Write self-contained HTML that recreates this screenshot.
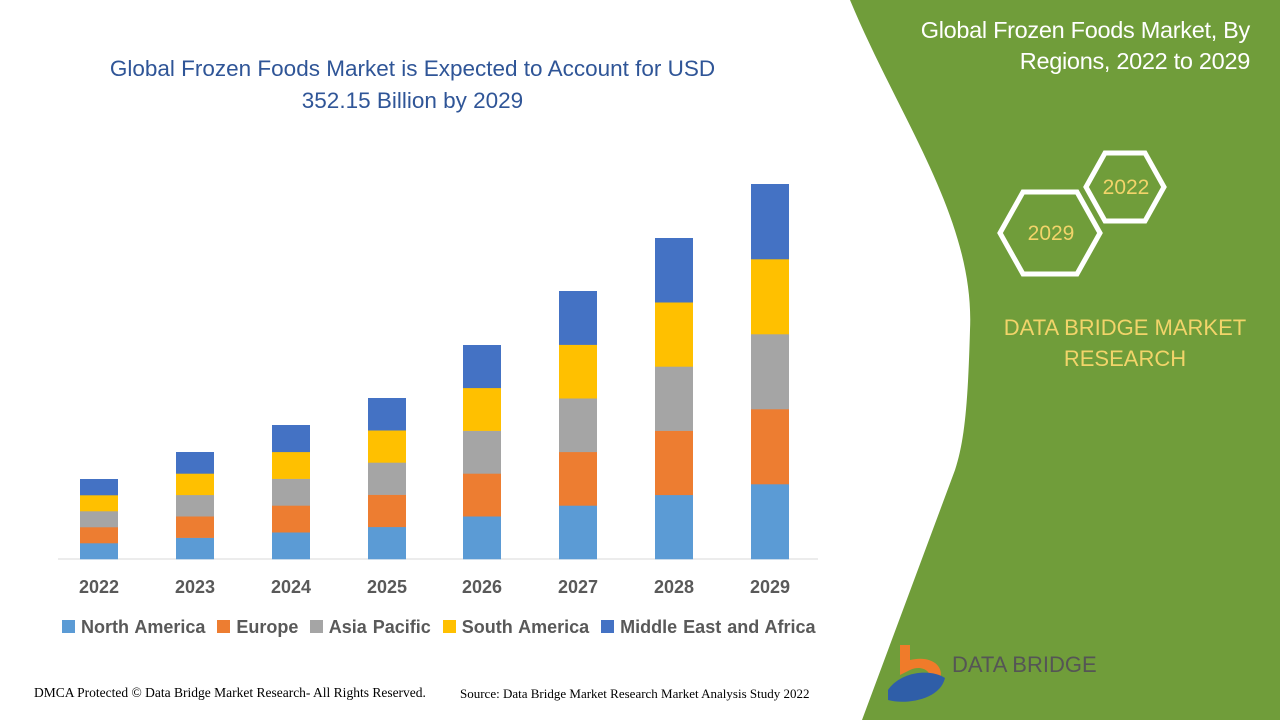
<!DOCTYPE html>
<html><head><meta charset="utf-8"><style>
body{margin:0;width:1280px;height:720px;overflow:hidden;background:#fff;font-family:"Liberation Sans",sans-serif;position:relative}
.t{position:absolute;white-space:nowrap}
</style></head><body>
<svg width="1280" height="720" style="position:absolute;left:0;top:0">
<path d="M850,0 C900,120 975,220 970,330 C968,400 965,440 955,470 L862,720 L1280,720 L1280,0 Z" fill="#709d3a"/>
<polygon points="1086,187 1105,153 1145,153 1164,187 1145,221 1105,221" fill="none" stroke="#fff" stroke-width="5"/>
<polygon points="1000,233 1023,192 1077,192 1100,233 1077,274 1023,274" fill="none" stroke="#fff" stroke-width="5"/>
<text x="1126" y="194" font-size="21" fill="#f2d46a" text-anchor="middle" font-family="Liberation Sans">2022</text>
<text x="1051" y="240" font-size="21" fill="#f2d46a" text-anchor="middle" font-family="Liberation Sans">2029</text>
<line x1="58" y1="559" x2="818" y2="559" stroke="#d9d9d9" stroke-width="1"/>
<g id="bars"></g>
<path d="M900,645 L910,645 L910,660 C930,655 945,665 940,680 L930,680 C932,670 920,665 910,670 L900,675 Z" fill="#f07b2a"/>
<path d="M888,690 C900,672 930,668 945,678 C940,700 905,705 888,700 Z" fill="#2f5ea8"/>
<text x="952" y="672" font-size="22" fill="#555" font-family="Liberation Sans">DATA BRIDGE</text>
</svg>
<div class="t" style="left:40px;top:53px;width:745px;text-align:center;font-size:22.5px;line-height:32px;color:#2f5597">Global Frozen Foods Market is Expected to Account for USD<br>352.15 Billion by 2029</div>
<div class="t" style="right:30px;top:15px;text-align:right;font-size:23.5px;line-height:31px;color:#fff;letter-spacing:-0.3px">Global Frozen Foods Market, By<br>Regions, 2022 to 2029</div>
<div class="t" style="left:980px;top:312px;width:290px;text-align:center;font-size:22px;line-height:31px;color:#f2d46a">DATA BRIDGE MARKET<br>RESEARCH</div>
<div class="t" style="left:34px;top:685px;font-size:13.5px;font-family:'Liberation Serif',serif">DMCA Protected © Data Bridge Market Research- All Rights Reserved.</div>
<div class="t" style="left:460px;top:686px;font-size:13px;font-family:'Liberation Serif',serif">Source: Data Bridge Market Research Market Analysis Study 2022</div>
<div class="t" style="left:62px;top:617px;font-size:18px;font-weight:bold;color:#595959;word-spacing:1px">
<span style="display:inline-block;width:13px;height:13px;background:#5b9bd5"></span> North America &nbsp;<span style="display:inline-block;width:13px;height:13px;background:#ed7d31"></span> Europe &nbsp;<span style="display:inline-block;width:13px;height:13px;background:#a5a5a5"></span> Asia Pacific &nbsp;<span style="display:inline-block;width:13px;height:13px;background:#ffc000"></span> South America &nbsp;<span style="display:inline-block;width:13px;height:13px;background:#4472c4"></span> Middle East and Africa</div>
<script>
var xs=[80,176,272,368,463,559,655,751],tops=[479,452,425,398,345,291,238,184],yrs=[2022,2023,2024,2025,2026,2027,2028,2029];
var cols=["#5b9bd5","#ed7d31","#a5a5a5","#ffc000","#4472c4"],g=document.getElementById('bars'),s='';
for(var i=0;i<8;i++){var h=(559-tops[i])/5;for(var k=0;k<5;k++){s+='<rect x="'+xs[i]+'" y="'+(559-h*(k+1))+'" width="38" height="'+(h+0.3)+'" fill="'+cols[k]+'"/>';}
s+='<text x="'+(xs[i]+19)+'" y="593" font-size="18" font-weight="bold" fill="#595959" text-anchor="middle" font-family="Liberation Sans">'+yrs[i]+'</text>';}
g.innerHTML=s;
</script>
</body></html>
